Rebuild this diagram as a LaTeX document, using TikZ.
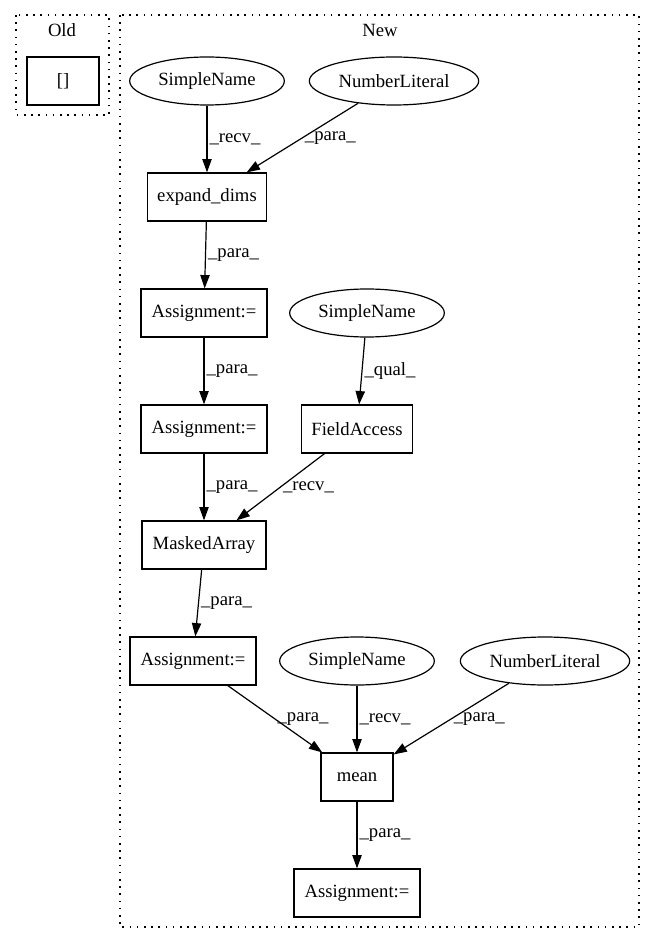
\documentclass[tikz,border=0pt]{standalone}
\usepackage{fontspec}
\setmainfont{Liberation Serif}
\usetikzlibrary{shapes.geometric,arrows.meta}
\begin{document}
\begin{tikzpicture}[x=0.75pt,y=-0.75pt,
  font=\fontsize{14pt}{16pt}\selectfont,
  box/.style={draw,line width=0.9pt,rectangle,inner sep=0pt,minimum height=36pt},
  oval/.style={draw,line width=0.9pt,ellipse,inner sep=0pt,minimum height=36pt},
  cluster/.style={draw,line width=1pt,dash pattern=on 1.2pt off 4.2pt},
  edge/.style={draw,line width=0.9pt,-{Triangle[length=10pt,width=7pt]}},
  lbl/.style={anchor=west,inner sep=1.5pt}]
\useasboundingbox (0,0) rectangle (656,944);
% clusters
\draw[cluster] (16,15) rectangle (109,115);
\node (oldlbl) at (62,30) {Old};
\draw[cluster] (120,15) rectangle (639,927);
\node (newlbl) at (380,30) {New};
% nodes
\node[box,minimum width=54pt] (br) at (63,81) {[]};
\node[oval,minimum width=116pt] (sn1) at (207,81) {SimpleName};
\node[oval,minimum width=127pt] (nl1) at (394,81) {NumberLiteral};
\node[box,minimum width=89pt] (ed) at (207,197) {expand\_dims};
\node[box,minimum width=94.5pt] (as1) at (204,313) {Assignment:=};
\node[oval,minimum width=116pt] (sn2) at (367,313) {SimpleName};
\node[box,minimum width=94.5pt] (as2) at (204,429) {Assignment:=};
\node[box,minimum width=83pt] (fa) at (357,429) {FieldAccess};
\node[box,minimum width=93pt] (ma) at (204,545) {MaskedArray};
\node[box,minimum width=94.5pt] (as3) at (193,661) {Assignment:=};
\node[oval,minimum width=116pt] (sn3) at (357,661) {SimpleName};
\node[oval,minimum width=127pt] (nl2) at (545,661) {NumberLiteral};
\node[box,minimum width=54pt] (mean) at (357,777) {mean};
\node[box,minimum width=94.5pt] (as4) at (357,893) {Assignment:=};
% edges
\draw[edge] (sn1) -- node[lbl] {\_recv\_} (ed);
\draw[edge] (nl1) -- node[lbl] {\_para\_} (ed);
\draw[edge] (ed) -- node[lbl] {\_para\_} (as1);
\draw[edge] (as1) -- node[lbl] {\_para\_} (as2);
\draw[edge] (sn2) -- node[lbl] {\_qual\_} (fa);
\draw[edge] (as2) -- node[lbl] {\_para\_} (ma);
\draw[edge] (fa) -- node[lbl] {\_recv\_} (ma);
\draw[edge] (ma) -- node[lbl] {\_para\_} (as3);
\draw[edge] (as3) -- node[lbl] {\_para\_} (mean);
\draw[edge] (sn3) -- node[lbl] {\_recv\_} (mean);
\draw[edge] (nl2) -- node[lbl] {\_para\_} (mean);
\draw[edge] (mean) -- node[lbl] {\_para\_} (as4);
\end{tikzpicture}
\end{document}
